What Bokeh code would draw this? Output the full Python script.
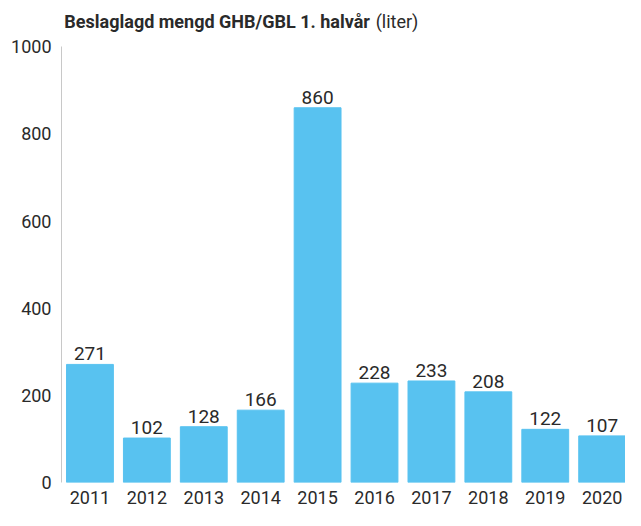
from bokeh.plotting import figure
from bokeh.models import ColumnDataSource, FixedTicker, Range1d
from bokeh.core.properties import value
from bokeh.embed import file_html
from bokeh.resources import INLINE

years = ["2011", "2012", "2013", "2014", "2015", "2016", "2017", "2018", "2019", "2020"]
values = [271, 102, 128, 166, 860, 228, 233, 208, 122, 107]
y_ticks = [0, 200, 400, 600, 800, 1000]
title_bold = "Beslaglagd mengd GHB/GBL 1. halvår"
title_rest = "(liter)"

BAR = "#58C2F0"
TXT = "#2a2a2a"
FONT = "Roboto"

xs = list(range(len(years)))
src = ColumnDataSource(dict(x=xs, top=values, lab=[str(v) for v in values]))

p = figure(x_range=Range1d(-0.5, 9.41), y_range=Range1d(0, 1097), width=625, height=510,
           output_backend="svg", toolbar_location=None,
           min_border_left=61, min_border_right=0, min_border_top=4, min_border_bottom=28)
p.outline_line_color = None
p.grid.grid_line_color = None
p.background_fill_color = "white"

p.vbar(x="x", top="top", width=0.823, source=src, color=BAR)
p.text(x="x", y="top", text="lab", source=src, text_align="center", text_baseline="bottom",
       y_offset=-4, text_font_size="19px", text_color=TXT, text_font=value(FONT))

p.yaxis.ticker = FixedTicker(ticks=y_ticks)
p.yaxis.bounds = (0, 1000)
p.yaxis.major_tick_line_color = None
p.yaxis.major_tick_out = 0
p.yaxis.major_tick_in = 0
p.yaxis.minor_tick_line_color = None
p.yaxis.axis_line_color = "#c8c8c8"
p.yaxis.major_label_text_font_size = "18px"
p.yaxis.major_label_text_color = TXT
p.yaxis.major_label_text_font = FONT
p.yaxis.major_label_standoff = 10

p.xaxis.ticker = FixedTicker(ticks=xs)
p.xaxis.major_label_overrides = {i: y for i, y in zip(xs, years)}
p.xaxis.axis_line_color = None
p.xaxis.major_tick_line_color = None
p.xaxis.major_tick_out = 0
p.xaxis.major_tick_in = 0
p.xaxis.minor_tick_line_color = None
p.xaxis.major_label_text_font_size = "18px"
p.xaxis.major_label_text_color = TXT
p.xaxis.major_label_text_font = FONT
p.xaxis.major_label_standoff = 8

p.text(x=[-0.45], y=[1058], text=[title_bold], text_font=value(FONT), text_font_style="bold",
       text_font_size="18px", text_color=TXT, text_baseline="middle", text_align="left")
p.text(x=[5.02], y=[1058], text=[title_rest], text_font=value(FONT),
       text_font_size="18px", text_color=TXT, text_baseline="middle", text_align="left")

open("out.html", "w").write(file_html(p, INLINE))
